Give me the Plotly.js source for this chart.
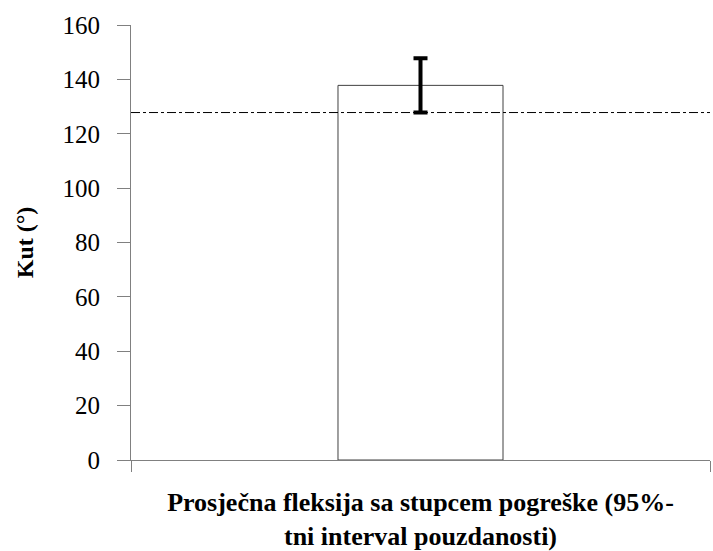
<!DOCTYPE html>
<html>
<head>
<meta charset="utf-8">
<script src="https://cdn.plot.ly/plotly-3.0.1.min.js"></script>
<style>html,body{margin:0;padding:0;background:#fff;}#chart{width:713px;height:551px;}</style>
</head>
<body>
<div id="chart"></div>
<script>
var categories = ["Prosječna fleksija sa stupcem pogreške (95%-tni interval pouzdanosti)"];
var meanValues = [137.8];
var errorValues = [10];
var referenceLine = [127.8];
var yTickValues = [0, 20, 40, 60, 80, 100, 120, 140, 160];

var serif = "'Times New Roman', 'Liberation Serif', 'DejaVu Serif', serif";

var traces = [{
  type: "bar",
  x: categories,
  y: meanValues,
  width: 0.285,
  marker: {color: "#ffffff", line: {color: "#404040", width: 1}},
  error_y: {type: "data", array: errorValues, visible: true, color: "#000000", thickness: 4, width: 7},
  hoverinfo: "y"
}];

var layout = {
  width: 713,
  height: 551,
  margin: {l: 131, r: 3, t: 25, b: 91},
  paper_bgcolor: "#ffffff",
  plot_bgcolor: "#ffffff",
  showlegend: false,
  font: {family: serif, color: "#000000"},
  xaxis: {
    type: "category",
    showticklabels: false,
    tickson: "boundaries",
    ticks: "outside",
    ticklen: 11,
    tickcolor: "#808080",
    showline: true,
    linecolor: "#808080",
    linewidth: 1,
    showgrid: false,
    zeroline: false,
    title: {
      text: "Prosječna fleksija sa stupcem pogreške (95%-<br>tni interval pouzdanosti)",
      font: {family: serif, size: 26, color: "#000000", weight: "bold"},
      standoff: 33
    }
  },
  yaxis: {
    range: [0, 160],
    tickvals: yTickValues,
    ticktext: yTickValues.map(String),
    ticks: "outside",
    ticklen: 13,
    tickcolor: "#808080",
    ticklabelstandoff: 12,
    showline: true,
    linecolor: "#808080",
    linewidth: 1,
    showgrid: false,
    zeroline: false,
    tickfont: {family: serif, size: 25, color: "#000000"},
    title: {
      text: "Kut (°)",
      font: {family: serif, size: 24, color: "#000000", weight: "bold"},
      standoff: 22
    }
  },
  shapes: referenceLine.map(function (v) {
    return {
      type: "line", xref: "paper", yref: "y",
      x0: 0, x1: 1, y0: v, y1: v,
      line: {color: "#000000", width: 1, dash: "dashdot"},
      layer: "above"
    };
  })
};

Plotly.newPlot("chart", traces, layout, {displayModeBar: false, staticPlot: true});
</script>
</body>
</html>
